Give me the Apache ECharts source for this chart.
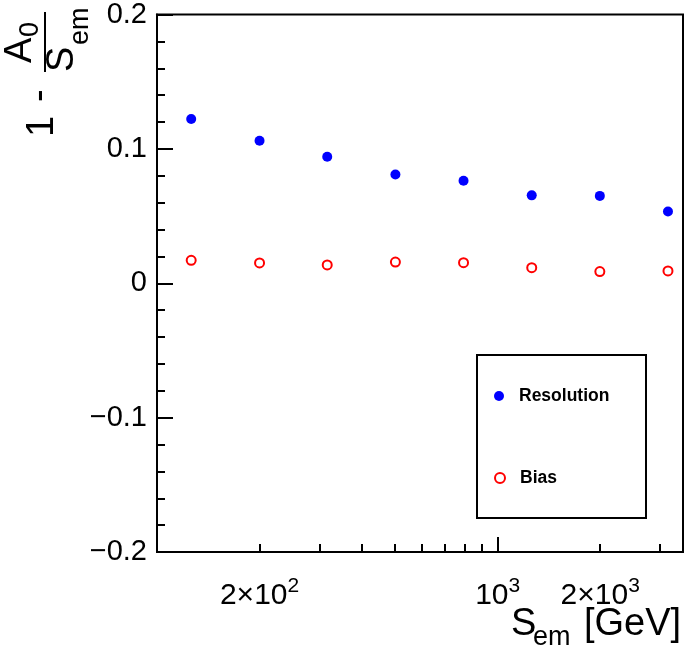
<!DOCTYPE html>
<html><head><meta charset="utf-8">
<script src="https://cdn.jsdelivr.net/npm/echarts@6/dist/echarts.min.js"></script>
<style>html,body{margin:0;padding:0;background:#fff}#c{width:685px;height:650px}</style>
</head><body><div id="c"></div>
<script>
// ---- data ----
const energies   = [126, 200, 316, 501, 794, 1259, 1995, 3162];
const resolution = [0.1222, 0.1060, 0.0942, 0.0809, 0.0763, 0.0654, 0.0650, 0.0534];
const bias       = [0.0171, 0.0151, 0.0136, 0.0158, 0.0153, 0.0116, 0.0087, 0.0092];
const xLabelValues = [200, 1000, 2000];
const xMinorTickValues = [200, 300, 400, 500, 600, 700, 800, 900, 2000, 3000];
const seriesNames = ['Resolution', 'Bias'];

const FONT = "'Liberation Sans', Arial, Helvetica, sans-serif";
const chart = echarts.init(document.getElementById('c'), null, {renderer: 'canvas'});

function xLabel(v) {
  const e = Math.floor(Math.log10(v) + 1e-9);
  const m = Math.round(v / Math.pow(10, e));
  return (m === 1 ? '' : m + '×') + '10{sup|' + e + '}';
}

const xCommon = {
  type: 'log', logBase: 10, min: 100, max: 3500, gridIndex: 0, position: 'bottom',
  splitLine: {show: false}
};

const option = {
  backgroundColor: '#fff',
  animation: false,
  grid: {left: 157, right: 2, top: 12, bottom: 98, show: true, borderColor: '#000', borderWidth: 2, backgroundColor: 'transparent'},
  xAxis: [
    Object.assign({}, xCommon, {
      axisLine: {show: true, onZero: false, lineStyle: {color: '#000', width: 2}},
      axisTick: {show: true, inside: true, length: 15, lineStyle: {color: '#000', width: 2}},
      axisLabel: {
        show: true, customValues: xLabelValues, margin: 24,
        formatter: xLabel, color: '#000', fontFamily: FONT, fontSize: 30,
        rich: {sup: {fontSize: 21, fontFamily: FONT, color: '#000', padding: [0, 0, 19, 0]}}
      }
    }),
    Object.assign({}, xCommon, {
      axisLine: {show: false, onZero: false},
      axisTick: {show: true, inside: true, length: 8, customValues: xMinorTickValues, lineStyle: {color: '#000', width: 2}},
      axisLabel: {show: false}
    })
  ],
  yAxis: {
    type: 'value', min: -0.2, max: 0.2, interval: 0.1,
    axisLine: {show: true, onZero: false, lineStyle: {color: '#000', width: 2}},
    axisTick: {show: true, inside: true, length: 16, lineStyle: {color: '#000', width: 2}},
    minorTick: {show: true, splitNumber: 5, length: 8, lineStyle: {color: '#000', width: 2}},
    splitLine: {show: false},
    axisLabel: {
      margin: 10, color: '#000', fontFamily: FONT, fontSize: 29, padding: [6, 0, 0, 0],
      formatter: v => (Math.abs(v) < 1e-9 ? '0' : (v < 0 ? '\u2212' : '') + Math.abs(v).toFixed(1))
    }
  },
  legend: [
    {data: [seriesNames[0]], left: 494, top: 387, padding: 0, itemWidth: 10, itemHeight: 10,
     textStyle: {fontFamily: FONT, fontSize: 17.5, fontWeight: 'bold', color: '#000', padding: [0, 0, 0, 10]}},
    {data: [seriesNames[1]], left: 494, top: 469, padding: 0, itemWidth: 10, itemHeight: 10,
     textStyle: {fontFamily: FONT, fontSize: 17.5, fontWeight: 'bold', color: '#000', padding: [0, 0, 0, 10]}}
  ],
  series: [
    {name: seriesNames[0], type: 'scatter', xAxisIndex: 0, symbol: 'circle', symbolSize: 10,
     itemStyle: {color: '#0000ff', opacity: 1}, data: energies.map((x, i) => [x, resolution[i]])},
    {name: seriesNames[1], type: 'scatter', xAxisIndex: 0, symbol: 'emptyCircle', symbolSize: 9,
     itemStyle: {color: '#ff0000', borderColor: '#ff0000', borderWidth: 1.6, opacity: 1}, data: energies.map((x, i) => [x, bias[i]])}
  ],
  graphic: [
    {type: 'rect', z: -1, shape: {x: 477, y: 355, width: 169, height: 163},
     style: {fill: '#fff', stroke: '#000', lineWidth: 2}},
    // x-axis title
    {type: 'text', style: {text: 'S', x: 511, y: 625, fontSize: 38, fontFamily: FONT, verticalAlign: 'middle', fill: '#000'}},
    {type: 'text', style: {text: 'em', x: 533, y: 638, fontSize: 27, fontFamily: FONT, verticalAlign: 'middle', fill: '#000'}},
    {type: 'text', style: {text: '[GeV]', x: 584, y: 625, fontSize: 38, fontFamily: FONT, verticalAlign: 'middle', fill: '#000'}},
    // y-axis title (rotated)
    {type: 'group', x: 0, y: 160, rotation: Math.PI / 2, children: [
      {type: 'text', style: {text: '1', x: 23, y: 43, fontSize: 38, fontFamily: FONT, verticalAlign: 'middle', fill: '#000'}},
      {type: 'text', style: {text: '-', x: 58, y: 41, fontSize: 38, fontFamily: FONT, verticalAlign: 'middle', fill: '#000'}},
      {type: 'line', shape: {x1: 88, y1: 45, x2: 148, y2: 45}, style: {stroke: '#000', lineWidth: 2}},
      {type: 'text', style: {text: 'A', x: 97, y: 21, fontSize: 38, fontFamily: FONT, verticalAlign: 'middle', fill: '#000'}},
      {type: 'text', style: {text: '0', x: 123, y: 31, fontSize: 27, fontFamily: FONT, verticalAlign: 'middle', fill: '#000'}},
      {type: 'text', style: {text: 'S', x: 88, y: 63, fontSize: 38, fontFamily: FONT, verticalAlign: 'middle', fill: '#000'}},
      {type: 'text', style: {text: 'em', x: 115, y: 81, fontSize: 27, fontFamily: FONT, verticalAlign: 'middle', fill: '#000'}}
    ]}
  ]
};
chart.setOption(option);
</script>
</body></html>
